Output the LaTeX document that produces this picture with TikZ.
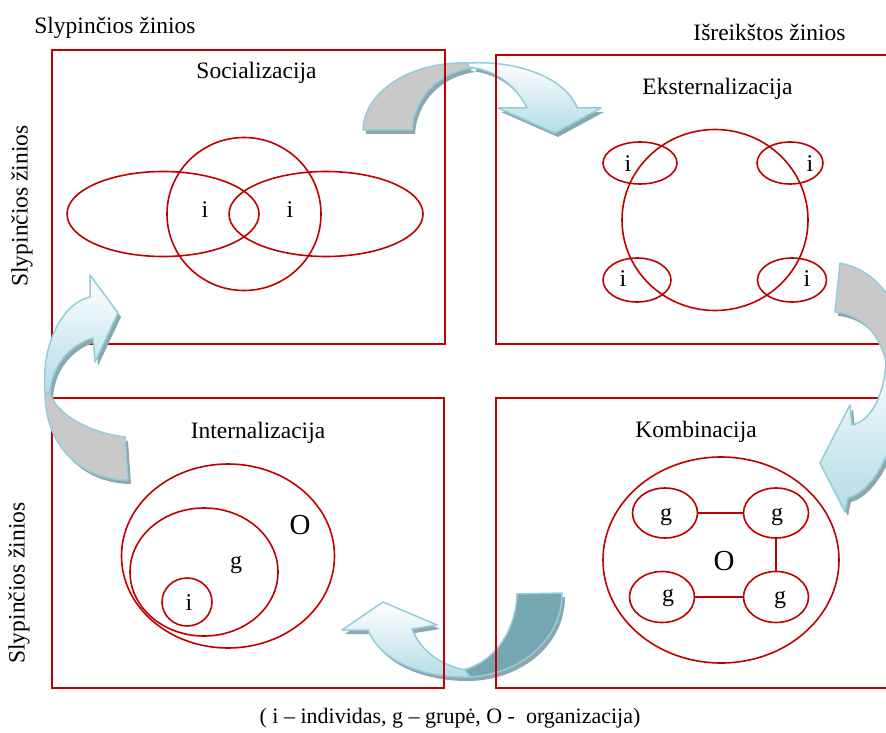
\documentclass[tikz,border=0pt]{standalone}
\usepackage{fontspec}
\setmainfont{Liberation Serif}
\usetikzlibrary{shapes.geometric}

\definecolor{boxred}{HTML}{C00000}
\definecolor{arrowblue}{HTML}{93CDDC}
\definecolor{backgray}{HTML}{C9C9C9}
\definecolor{frontblue}{HTML}{B4DCE6}
\definecolor{shadowgray}{HTML}{8EA7AE}
\definecolor{tealback}{HTML}{76A7B1}

\newcommand\fsz[1]{\fontsize{#1}{#1}\selectfont}

% outlines of the four curved arrows (back strip and front strip with head)
\newcommand\ArrTopBack{(363,130) -- (412,130) .. controls (414,98) and (438,72) .. (473,68) -- (473,63) .. controls (410,60) and (364,92) .. (363,130) -- cycle}
\newcommand\ArrTopFront{(468,63) .. controls (525,60) and (568,82) .. (577,108) -- (601,108) -- (555,133) -- (498,108) -- (527,108) .. controls (516,86) and (497,70) .. (468,67) -- cycle}
\newcommand\ArrRightBack{(840,263) .. controls (875,270) and (900,300) .. (905,345) -- (886,362) .. controls (880,335) and (862,314) .. (835,312) -- cycle}
\newcommand\ArrRightFront{(905,345) .. controls (910,420) and (880,490) .. (848,498) -- (845,512) -- (820,463) -- (850,405) -- (852,425) .. controls (868,422) and (884,400) .. (886,362) -- cycle}
\newcommand\ArrBottomBack{(517,594) -- (562,593) .. controls (562,640) and (520,675) .. (468,677) -- (463,670) .. controls (495,662) and (516,630) .. (517,594) -- cycle}
\newcommand\ArrBottomFront{(470,677) .. controls (420,678) and (380,660) .. (368,630) -- (342,630) -- (383,602) -- (437,625) -- (412,629) .. controls (420,650) and (440,665) .. (465,670) -- cycle}
\newcommand\ArrLeftBack{(125,437) -- (128,480) .. controls (85,480) and (45,450) .. (45,392) -- (50,393) .. controls (55,412) and (85,432) .. (125,437) -- cycle}
\newcommand\ArrLeftFront{(45,392) .. controls (41,345) and (62,303) .. (90,297) -- (90,275) -- (118,313) -- (95,362) -- (93,338) .. controls (70,345) and (52,365) .. (50,393) -- cycle}

\begin{document}
\begin{tikzpicture}[x=1pt,y=-1pt,
  quad/.style={draw=boxred, line width=1.6pt},
  oval/.style={ellipse, draw=boxred, line width=1.6pt, inner sep=0pt, outer sep=0pt},
  link/.style={draw=boxred, line width=1.6pt},
  title/.style={inner sep=0pt, font=\fsz{23.5}},
  small/.style={inner sep=0pt, font=\fsz{24}},
  big/.style={inner sep=0pt, font=\fsz{29}},
  caption/.style={inner sep=0pt, font=\fsz{22}},
  arrline/.style={draw=arrowblue, line width=1.5pt, line join=round},
  backstrip/.style={arrline, fill=backgray},
  frontstrip/.style={arrline, top color=white, bottom color=frontblue},
  shade/.style={fill=shadowgray, draw=none, shift={(3,4)}}
]
\useasboundingbox (0,0) rectangle (886,733);
\fill[white] (0,0) rectangle (886,733);
\clip (0,0) rectangle (886,733);

% arrows lying under the quadrant frames
\fill[shade] \ArrTopBack \ArrTopFront;
\filldraw[backstrip] \ArrTopBack;
\filldraw[frontstrip] \ArrTopFront;
\fill[shade] \ArrBottomBack \ArrBottomFront;
\filldraw[arrline, fill=tealback] \ArrBottomBack;
\filldraw[frontstrip] \ArrBottomFront;

% quadrant frames
\draw[quad] (52,50) rectangle (445,344);
\draw[quad] (496,55) rectangle (892,344);
\draw[quad] (52,398) rectangle (444,688);
\draw[quad] (496,398) rectangle (892,688);

% headings
\node[title] (h1) at (115,27.5) {Slypinčios žinios};
\node[title] (h2) at (769.5,32.5) {Išreikštos žinios};
\node[title, rotate=90] (h3) at (22,206) {Slypinčios žinios};
\node[title, rotate=90] (h4) at (19,583) {Slypinčios žinios};
\node[title] (t1) at (256.5,73) {Socializacija};
\node[title] (t2) at (717.5,89) {Eksternalizacija};
\node[title] (t3) at (258,433) {Internalizacija};
\node[title] (t4) at (696,432) {Kombinacija};
\node[caption] (cap) at (450,718) {( i – individas, g – grupė, O -\ \ organizacija)};

% Socializacija
\node[oval, minimum width=154, minimum height=153] (sc) at (244,214) {};
\node[oval, minimum width=192, minimum height=85] (sl) at (163,214) {};
\node[oval, minimum width=194, minimum height=85] (sr) at (326,214) {};
\node[small] (si1) at (205,210) {i};
\node[small] (si2) at (290,210) {i};

% Eksternalizacija
\node[oval, minimum width=186, minimum height=181] (ec) at (715,220) {};
\node[oval, minimum width=74, minimum height=42] (e1) at (640,163) {};
\node[oval, minimum width=66, minimum height=42] (e2) at (790,163) {};
\node[oval, minimum width=68, minimum height=44] (e3) at (637,280) {};
\node[oval, minimum width=69, minimum height=44] (e4) at (792,280) {};
\node[small] (ei1) at (628,164) {i};
\node[small] (ei2) at (810,164) {i};
\node[small] (ei3) at (623,279) {i};
\node[small] (ei4) at (807,279) {i};

% Internalizacija
\node[oval, minimum width=213, minimum height=184] (io) at (228,556) {};
\node[oval, minimum width=148, minimum height=128] (ig) at (204,572) {};
\node[oval, minimum width=50, minimum height=48] (ii) at (187,602) {};
\node[big] (iO) at (300,525) {O};
\node[small] (iG) at (236,565) {g};
\node[small] (iI) at (189,603) {i};

% Kombinacija
\node[oval, minimum width=236, minimum height=206] (ko) at (721,560) {};
\node[oval, minimum width=65, minimum height=50] (k1) at (665,513) {};
\node[oval, minimum width=65, minimum height=50] (k2) at (776,513) {};
\node[oval, minimum width=65, minimum height=51] (k3) at (662,597) {};
\node[oval, minimum width=65, minimum height=51] (k4) at (776,597) {};
\draw[link] (k1) -- (k2);
\draw[link] (k2) -- (k4);
\draw[link] (k3) -- (k4);
\node[big] (kO) at (724,561) {O};
\node[small] (kg1) at (666,517) {g};
\node[small] (kg2) at (777,517) {g};
\node[small] (kg3) at (668,598) {g};
\node[small] (kg4) at (780,600) {g};

% arrows lying over the quadrant frames
\fill[shade] \ArrRightBack \ArrRightFront;
\filldraw[backstrip] \ArrRightBack;
\filldraw[frontstrip] \ArrRightFront;
\fill[shade] \ArrLeftBack \ArrLeftFront;
\filldraw[backstrip] \ArrLeftBack;
\filldraw[frontstrip] \ArrLeftFront;
\end{tikzpicture}
\end{document}
